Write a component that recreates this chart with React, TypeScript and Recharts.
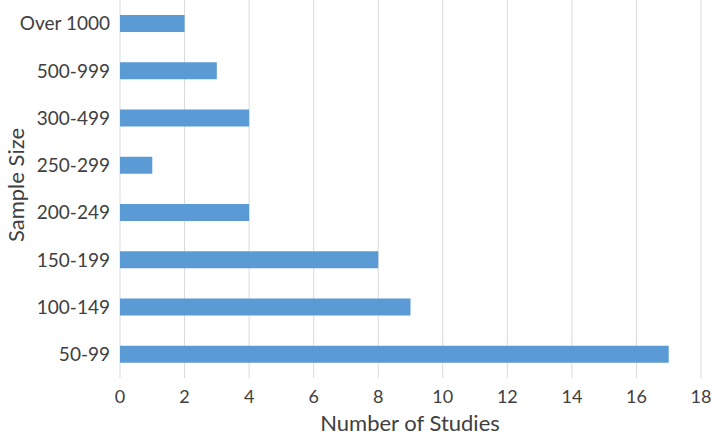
import { BarChart, Bar, XAxis, YAxis, CartesianGrid } from 'recharts';

// sample-size groups, top to bottom as drawn
const categories = ['Over 1000', '500-999', '300-499', '250-299', '200-249', '150-199', '100-149', '50-99'];
const studies = [2, 3, 4, 1, 4, 8, 9, 17];
const xTicks = [0, 2, 4, 6, 8, 10, 12, 14, 16, 18];

const data = categories.map((c, i) => ({ size: c, count: studies[i] }));

const W = 711;
const H = 435;
const font = 'Lato, "Open Sans", sans-serif';
const textColor = '#404040';

if (typeof document !== 'undefined') {
  document.body.style.margin = '0';
}

export default function App() {
  return (
    <div style={{ width: W, height: H, background: '#fff', position: 'relative', fontFamily: font }}>
      <BarChart
        width={W}
        height={H}
        data={data}
        layout="vertical"
        margin={{ top: 0, right: 10, left: 0, bottom: 0 }}
        style={{ fontFamily: font }}
      >
        <CartesianGrid horizontal={false} stroke="#D9D9D9" />
        <XAxis
          type="number"
          domain={[0, 18]}
          ticks={xTicks}
          height={57}
          axisLine={false}
          tickLine={false}
          tickSize={0}
          tickMargin={12}
          interval={0}
          tick={{ fontSize: 18, fill: textColor }}
        />
        <YAxis
          type="category"
          dataKey="size"
          width={120}
          axisLine={false}
          tickLine={false}
          tickSize={0}
          tickMargin={10}
          tick={{ fontSize: 19, fill: textColor }}
        />
        <Bar dataKey="count" fill="#5B9BD5" barSize={17} isAnimationActive={false} />
      </BarChart>
      <div
        style={{
          position: 'absolute',
          left: 260,
          width: 300,
          top: 412,
          lineHeight: '22px',
          fontSize: 22,
          textAlign: 'center',
          color: textColor,
        }}
      >
        Number of Studies
      </div>
      <div
        style={{
          position: 'absolute',
          left: 16 - 100,
          width: 200,
          top: 185 - 11,
          lineHeight: '22px',
          fontSize: 22,
          textAlign: 'center',
          color: textColor,
          transform: 'rotate(-90deg)',
        }}
      >
        Sample Size
      </div>
    </div>
  );
}
